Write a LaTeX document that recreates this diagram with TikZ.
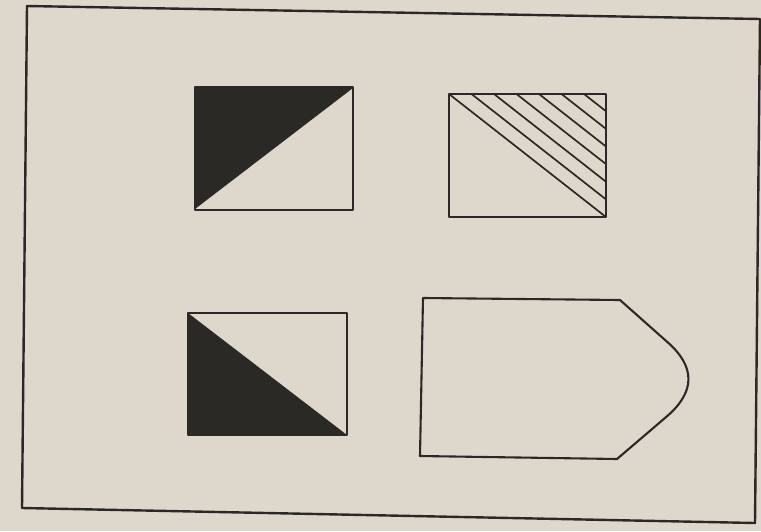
\documentclass[tikz,border=0pt]{standalone}
\usepackage{xcolor}
\usepackage{tikz}
\definecolor{paper}{HTML}{DED7CB}
\definecolor{ink}{HTML}{2B2926}
\tikzset{
  frameline/.style={draw=ink, line width=2.4pt, line join=round},
  shapeline/.style={draw=ink, line width=2.1pt, line join=round},
  hatchline/.style={draw=ink, line width=1.7pt}
}

\begin{document}
\begin{tikzpicture}[x=1pt, y=-1pt]
    \useasboundingbox[fill=paper] (0,0) rectangle (761,531);
    % outer frame
    \draw[frameline] (27,6) -- (760,19) -- (755,523) -- (22,508) -- cycle;

    % top left: upper triangle black
    \fill[ink] (195,87) -- (353,88) -- (195,209) -- cycle;
    \draw[shapeline] (195,87) rectangle (353,210);

    % top right: hatched
    \begin{scope}
      \clip (449,94) rectangle (606,217);
      \foreach \k in {0,...,6} {
        \draw[hatchline] (449+\k*22.5,94) -- ++(200,156.7);
      }
    \end{scope}
    \draw[shapeline] (449,94) rectangle (606,217);

    % bottom left: lower triangle black
    \fill[ink] (188,313) -- (347,435) -- (188,435) -- cycle;
    \draw[shapeline] (188,313) rectangle (347,435);

    % bottom right: pointed tab
    \draw[shapeline] (423,298) -- (620,300) -- (667.9,342.5)
      .. controls (695.3,366.8) and (695.3,391.2) .. (667.9,415.5)
      -- (617,459) -- (420,456) -- cycle;
  \end{tikzpicture}
\end{document}
